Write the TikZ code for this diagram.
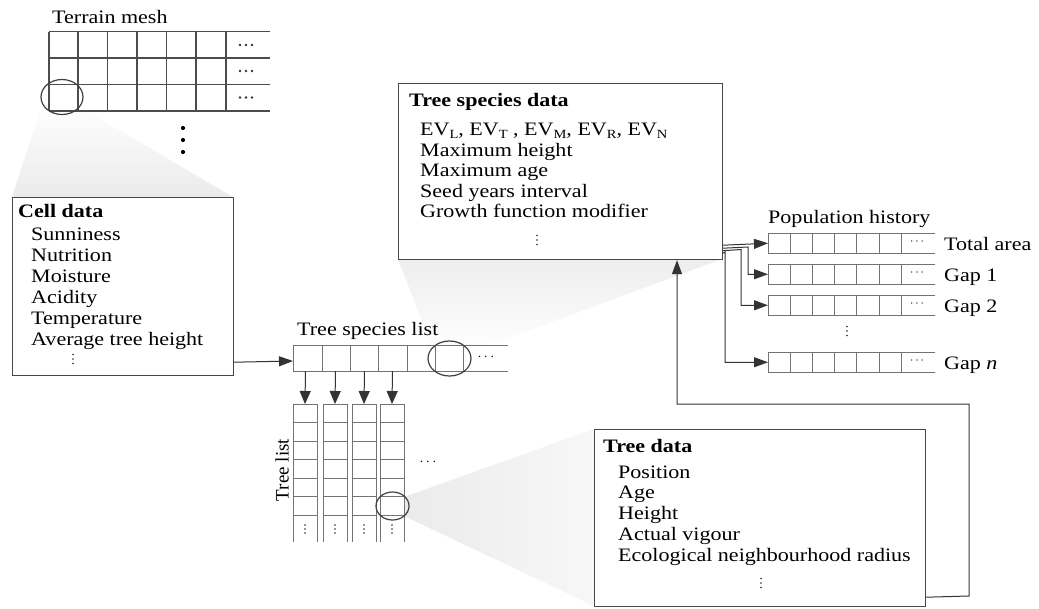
\documentclass[tikz,border=0pt]{standalone}
\usepackage{fontspec}
\setmainfont{Liberation Serif}[FakeStretch=1.16]
\newfontfamily\plainfont{Liberation Serif}
\usetikzlibrary{arrows.meta,shapes.geometric,calc}
\newcommand{\sbs}[1]{\raisebox{-3pt}{\fontsize{12.5}{12.5}\selectfont #1}}
\tikzset{
  box/.style={draw=black!72, line width=1.2pt, fill=white, inner sep=0pt, anchor=north west},
  gridl/.style={draw=black!55, line width=0.8pt},
  tgrid/.style={draw=black!70, line width=1.1pt},
  conn/.style={draw=black!80, line width=1pt},
  arr/.style={conn, -{Triangle[length=14pt,width=10pt]}},
  darr/.style={conn, -{Triangle[length=13pt,width=11pt]}},
  txt/.style={inner sep=0pt, anchor=base west, font=\fontsize{19}{21}\selectfont},
  ttl/.style={inner sep=0pt, anchor=base west, font=\fontsize{19}{21}\selectfont\bfseries},
  dots/.style={inner sep=0pt, font=\fontsize{14}{16}\selectfont},
  lens/.style={ellipse, draw=black!75, line width=1.2pt, inner sep=0pt},
  vd/.style={fill=black!85},
}
\begin{document}
\begin{tikzpicture}[x=1pt,y=-1pt]
\useasboundingbox (0,0) rectangle (1039,608);

% ---------- shaded cones ----------
\shade[top color=white, bottom color=black!8] (43,102) -- (80,107) -- (233,197) -- (12,197) -- cycle;
\shade[bottom color=white, top color=black!7] (432,347) -- (398,259) -- (722,259) -- (468,353) -- cycle;
\shade[left color=black!8, right color=black!3] (404,497) -- (594,429) -- (594,606) -- (404,516) -- cycle;

% ---------- terrain mesh ----------
\node[txt] (tm) at (52,23) {Terrain mesh};
\foreach \y in {31.5,58,84.5,111} \draw[tgrid] (49,\y) -- (270,\y);
\foreach \x in {49,78,107.5,137,166.5,196,226} \draw[tgrid] (\x,31.5) -- (\x,111);
\foreach \y in {45,71,97.5} {
  \foreach \x in {240,246,252} \fill[black!80] (\x,\y) circle (1.3);
}
\foreach \y in {128,140,152} \fill[black] (183,\y) circle (2.1);
\node[lens, minimum width=42pt, minimum height=35pt] (e1) at (62,97) {};

% ---------- cell data ----------
\node[box, minimum width=221pt, minimum height=178pt] (cell) at (12,197) {};
\node[ttl] (cdt) at (18,217) {Cell data};
\foreach \t [count=\i] in {Sunniness,Nutrition,Moisture,Acidity,Temperature,Average tree height}
  \node[txt] (cd\i) at (31,{240+21*(\i-1)}) {\t};
\foreach \d in {-4.5,0,4.5} \fill[vd] (73,359+\d) circle (0.95);

% ---------- tree species list ----------
\node[txt] (tslt) at (297,335) {Tree species list};
\draw[gridl] (293,345) -- (508,345) (293,371) -- (508,371);
\foreach \x in {293,322,350,378,407,435,463} \draw[gridl] (\x,345) -- (\x,371);
\node[dots] (tsld) at (486,357) {$\cdots$};
\coordinate (tslin) at (293,361);
\node[lens, minimum width=43pt, minimum height=35pt] (e2) at (449.5,358.5) {};

\draw[arr] ($(cell.south east)+(0,-14)$) -- (tslin);

% ---------- tree lists ----------
\foreach \a [count=\k] in {293,323,352,380} {
  \draw[gridl] (\a,404) -- (\a,542) (\a+24,404) -- (\a+24,542);
  \foreach \y in {404,422.5,441,459.5,478,496.5,515} \draw[gridl] (\a,\y) -- (\a+24,\y);
  \foreach \d in {-4,0,4} \fill[vd] (\a+12,529+\d) circle (0.9);
  \coordinate (tltop\k) at (\a+12,404);
  \coordinate (tsb\k) at (\a+12.5,371);
  \draw[darr] (tsb\k) -- (tltop\k);
}
\node[inner sep=0pt, font=\plainfont\fontsize{19}{21}\selectfont, rotate=90] (tl) at (282,470) {Tree list};
\node[dots] (tld) at (428,462) {$\cdots$};
\node[lens, minimum width=33pt, minimum height=28pt] (e3) at (392.5,506) {};

% ---------- tree species data ----------
\node[box, minimum width=324pt, minimum height=176pt] (tsd) at (398,83) {};
\node[ttl] (tsdt) at (409,106) {Tree species data};
\node[txt] (tsd1) at (420,135) {EV\sbs{L}, EV\sbs{T} , EV\sbs{M}, EV\sbs{R}, EV\sbs{N}};
\foreach \t [count=\i] in {Maximum height,Maximum age,Seed years interval,Growth function modifier}
  \node[txt] (tsd\i x) at (420,{156+20.5*(\i-1)}) {\t};
\foreach \d in {-4.5,0,4.5} \fill[vd] (537,240+\d) circle (0.95);

% ---------- population history ----------
\node[txt] (pht) at (768,223) {Population history};
\foreach \r/\yt/\lab in {T/233/Total area, A/264/Gap 1, B/295/Gap 2, N/352/Gap \textit{n}} {
  \draw[gridl] (768,\yt) -- (935,\yt) (768,\yt+20.5) -- (935,\yt+20.5);
  \foreach \k in {0,...,6} \draw[gridl] (768+22.2*\k,\yt) -- (768+22.2*\k,\yt+20.5);
  \node[dots, font=\fontsize{12}{13}\selectfont] (pd\r) at (917,\yt+9) {$\cdots$};
  \coordinate (p\r) at (768,\yt+10.25);
  \node[txt] (pl\r) at (944,\yt+17.5) {\lab};
}
\foreach \d in {-4.5,0,4.5} \fill[vd] (847,331+\d) circle (0.95);

\draw[arr] ($(tsd.south east)+(0,-15)$) -- (pT);
\draw[arr] ($(tsd.south east)+(0,-12)$) -- (748,247) |- (pA);
\draw[arr] ($(tsd.south east)+(0,-9.5)$) -- (741,249.5) |- (pB);
\draw[arr] ($(tsd.south east)+(0,-7)$) -- (725,252) |- (pN);

% ---------- tree data ----------
\node[box, minimum width=331pt, minimum height=177pt] (td) at (594,429) {};
\node[ttl] (tdt) at (603,452) {Tree data};
\foreach \t [count=\i] in {Position,Age,Height,Actual vigour,Ecological neighbourhood radius}
  \node[txt] (td\i) at (618,{478+20.8*(\i-1)}) {\t};
\foreach \d in {-4.5,0,4.5} \fill[vd] (761,583+\d) circle (0.95);

\draw[arr] ($(td.south east)+(0,-10)$) -- (969,596) -- (969,404) -- (677,404) -- ($(tsd.south west)+(279,0)$);
\end{tikzpicture}
\end{document}
